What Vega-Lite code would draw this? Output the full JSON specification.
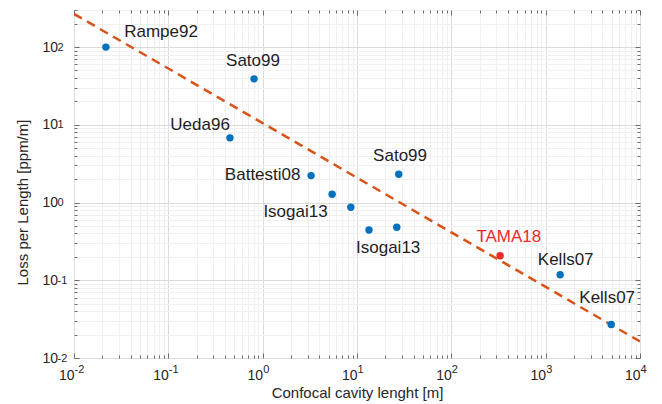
{
  "$schema": "https://vega.github.io/schema/vega-lite/v6.json",
  "width": 566,
  "height": 348,
  "autosize": {"type": "none"},
  "padding": {"left": 74, "top": 10, "right": 22, "bottom": 46},
  "background": "white",
  "config": {
    "font": "Liberation Sans",
    "view": {"stroke": "#6e6e6e", "strokeWidth": 1}
  },
  "datasets": {
    "cavities": [
      {"ref": "Rampe92", "length": 0.0218, "loss": 100},
      {"ref": "Sato99", "length": 0.81, "loss": 39},
      {"ref": "Ueda96", "length": 0.45, "loss": 6.8},
      {"ref": "Battesti08", "length": 3.26, "loss": 2.22},
      {"ref": "Isogai13", "length": 5.45, "loss": 1.28},
      {"ref": "Isogai13", "length": 8.6, "loss": 0.87},
      {"ref": "Isogai13", "length": 13.4, "loss": 0.444},
      {"ref": "Isogai13", "length": 26.4, "loss": 0.48},
      {"ref": "Sato99", "length": 27.7, "loss": 2.31},
      {"ref": "TAMA18", "length": 329, "loss": 0.207},
      {"ref": "Kells07", "length": 1425, "loss": 0.118},
      {"ref": "Kells07", "length": 4950, "loss": 0.027}
    ],
    "names": [
      {"ref": "Rampe92", "length": 0.0837, "loss": 157},
      {"ref": "Sato99", "length": 0.79, "loss": 66.4},
      {"ref": "Ueda96", "length": 0.217, "loss": 10},
      {"ref": "Battesti08", "length": 1.0, "loss": 2.27},
      {"ref": "Isogai13", "length": 2.23, "loss": 0.757},
      {"ref": "Isogai13", "length": 21.4, "loss": 0.261},
      {"ref": "Sato99", "length": 28.6, "loss": 3.98},
      {"ref": "TAMA18", "length": 407, "loss": 0.356},
      {"ref": "Kells07", "length": 1630, "loss": 0.182},
      {"ref": "Kells07", "length": 4487, "loss": 0.059}
    ],
    "trend": [
      {"length": 0.01, "loss": 267},
      {"length": 10000, "loss": 0.0163}
    ]
  },
  "layer": [
    {
      "data": {"name": "trend"},
      "mark": {"type": "line", "color": "#D95319", "strokeWidth": 2.5, "strokeDash": [9, 6], "clip": true},
      "encoding": {
        "x": {
          "field": "length", "type": "quantitative",
          "scale": {"type": "log", "domain": [0.01, 10000], "nice": false},
          "axis": {
            "orient": "top", "title": null, "labels": false, "domain": false,
            "values": [0.01,0.02,0.03,0.04,0.05,0.06,0.07,0.08,0.09,0.1,0.2,0.3,0.4,0.5,0.6,0.7,0.8,0.9,1,2,3,4,5,6,7,8,9,10,20,30,40,50,60,70,80,90,100,200,300,400,500,600,700,800,900,1000,2000,3000,4000,5000,6000,7000,8000,9000,10000],
            "grid": true, "gridColor": "#f0f0f0", "gridWidth": 1,
            "ticks": true, "tickColor": "#6e6e6e",
            "tickSize": {"condition": {"test": "abs(log(datum.value) / LN10 - round(log(datum.value) / LN10)) < 1e-6", "value": -5}, "value": -3}
          }
        },
        "y": {
          "field": "loss", "type": "quantitative",
          "scale": {"type": "log", "domain": [0.01, 300], "nice": false},
          "axis": {
            "orient": "right", "title": null, "labels": false, "domain": false,
            "values": [0.01,0.02,0.03,0.04,0.05,0.06,0.07,0.08,0.09,0.1,0.2,0.3,0.4,0.5,0.6,0.7,0.8,0.9,1,2,3,4,5,6,7,8,9,10,20,30,40,50,60,70,80,90,100,200,300],
            "grid": true, "gridColor": "#f0f0f0", "gridWidth": 1,
            "ticks": true, "tickColor": "#6e6e6e",
            "tickSize": {"condition": {"test": "abs(log(datum.value) / LN10 - round(log(datum.value) / LN10)) < 1e-6", "value": -5}, "value": -3}
          }
        }
      }
    },
    {
      "data": {"name": "cavities"},
      "transform": [{"filter": "datum.ref !== 'TAMA18'"}],
      "mark": {"type": "circle", "size": 55, "opacity": 1, "color": "#0072BD"},
      "encoding": {
        "x": {
          "field": "length", "type": "quantitative",
          "scale": {"type": "log", "domain": [0.01, 10000], "nice": false},
          "axis": {
            "orient": "bottom", "title": "Confocal cavity lenght [m]",
            "values": [0.01, 0.1, 1, 10, 100, 1000, 10000],
            "labelExpr": "'10'",
            "labelFontSize": 14, "labelColor": "#262626", "labelPadding": 17,
            "labelAlign": "right", "labelBaseline": "middle", "labelDx": 1, "labelFlush": false, "labelOverlap": false,
            "titleFontSize": 15, "titleFontWeight": "normal", "titleColor": "#262626",
            "titleBaseline": "middle", "titleY": 34,
            "domain": false, "grid": true, "gridColor": "#dcdcdc", "gridWidth": 1,
            "ticks": false
          }
        },
        "y": {
          "field": "loss", "type": "quantitative",
          "scale": {"type": "log", "domain": [0.01, 300], "nice": false},
          "axis": {
            "orient": "left", "title": "Loss per Length [ppm/m]",
            "values": [0.01, 0.1, 1, 10, 100],
            "labelExpr": "'10'",
            "labelFontSize": 14, "labelColor": "#262626", "labelPadding": 32,
            "labelAlign": "left", "labelBaseline": "middle", "labelDy": 2, "labelFlush": false, "labelOverlap": false,
            "titleFontSize": 15, "titleFontWeight": "normal", "titleColor": "#262626",
            "titleX": -52, "titleY": 192, "titleBaseline": "middle",
            "domain": false, "grid": true, "gridColor": "#dcdcdc", "gridWidth": 1,
            "ticks": false
          }
        }
      }
    },
    {
      "data": {"name": "cavities"},
      "transform": [{"filter": "datum.ref === 'TAMA18'"}],
      "mark": {"type": "circle", "size": 55, "opacity": 1, "color": "#EE2A2A"},
      "encoding": {
        "x": {
          "field": "length", "type": "quantitative",
          "scale": {"type": "log", "domain": [0.01, 10000], "nice": false},
          "axis": {
            "orient": "bottom", "title": null, "labels": false, "domain": false, "grid": false,
            "values": [0.01,0.02,0.03,0.04,0.05,0.06,0.07,0.08,0.09,0.1,0.2,0.3,0.4,0.5,0.6,0.7,0.8,0.9,1,2,3,4,5,6,7,8,9,10,20,30,40,50,60,70,80,90,100,200,300,400,500,600,700,800,900,1000,2000,3000,4000,5000,6000,7000,8000,9000,10000],
            "ticks": true, "tickColor": "#6e6e6e",
            "tickSize": {"condition": {"test": "abs(log(datum.value) / LN10 - round(log(datum.value) / LN10)) < 1e-6", "value": -5}, "value": -3}
          }
        },
        "y": {
          "field": "loss", "type": "quantitative",
          "scale": {"type": "log", "domain": [0.01, 300], "nice": false},
          "axis": {
            "orient": "left", "title": null, "labels": false, "domain": false, "grid": false,
            "values": [0.01,0.02,0.03,0.04,0.05,0.06,0.07,0.08,0.09,0.1,0.2,0.3,0.4,0.5,0.6,0.7,0.8,0.9,1,2,3,4,5,6,7,8,9,10,20,30,40,50,60,70,80,90,100,200,300],
            "ticks": true, "tickColor": "#6e6e6e",
            "tickSize": {"condition": {"test": "abs(log(datum.value) / LN10 - round(log(datum.value) / LN10)) < 1e-6", "value": -5}, "value": -3}
          }
        }
      }
    },
    {
      "data": {"name": "names"},
      "mark": {"type": "text", "fontSize": 17, "align": "center", "baseline": "middle"},
      "encoding": {
        "x": {
          "field": "length", "type": "quantitative",
          "scale": {"type": "log", "domain": [0.01, 10000], "nice": false},
          "axis": {
            "orient": "bottom", "title": null, "domain": false, "grid": false, "ticks": false,
            "values": [0.01, 0.1, 1, 10, 100, 1000, 10000],
            "labelExpr": "'' + round(log(datum.value) / LN10)",
            "labelFontSize": 11, "labelColor": "#262626", "labelPadding": 11,
            "labelAlign": "left", "labelBaseline": "middle", "labelDx": 1, "labelFlush": false, "labelOverlap": false
          }
        },
        "y": {
          "field": "loss", "type": "quantitative",
          "scale": {"type": "log", "domain": [0.01, 300], "nice": false},
          "axis": {
            "orient": "left", "title": null, "domain": false, "grid": false, "ticks": false,
            "values": [0.01, 0.1, 1, 10, 100],
            "labelExpr": "'' + round(log(datum.value) / LN10)",
            "labelFontSize": 11, "labelColor": "#262626", "labelPadding": 17,
            "labelAlign": "left", "labelBaseline": "middle", "labelDy": -5, "labelFlush": false, "labelOverlap": false
          }
        },
        "text": {"field": "ref", "type": "nominal"},
        "color": {
          "condition": {"test": "datum.ref === 'TAMA18'", "value": "#EE2A2A"},
          "value": "#1e1e1e"
        }
      }
    }
  ],
  "resolve": {"axis": {"x": "independent", "y": "independent"}}
}
